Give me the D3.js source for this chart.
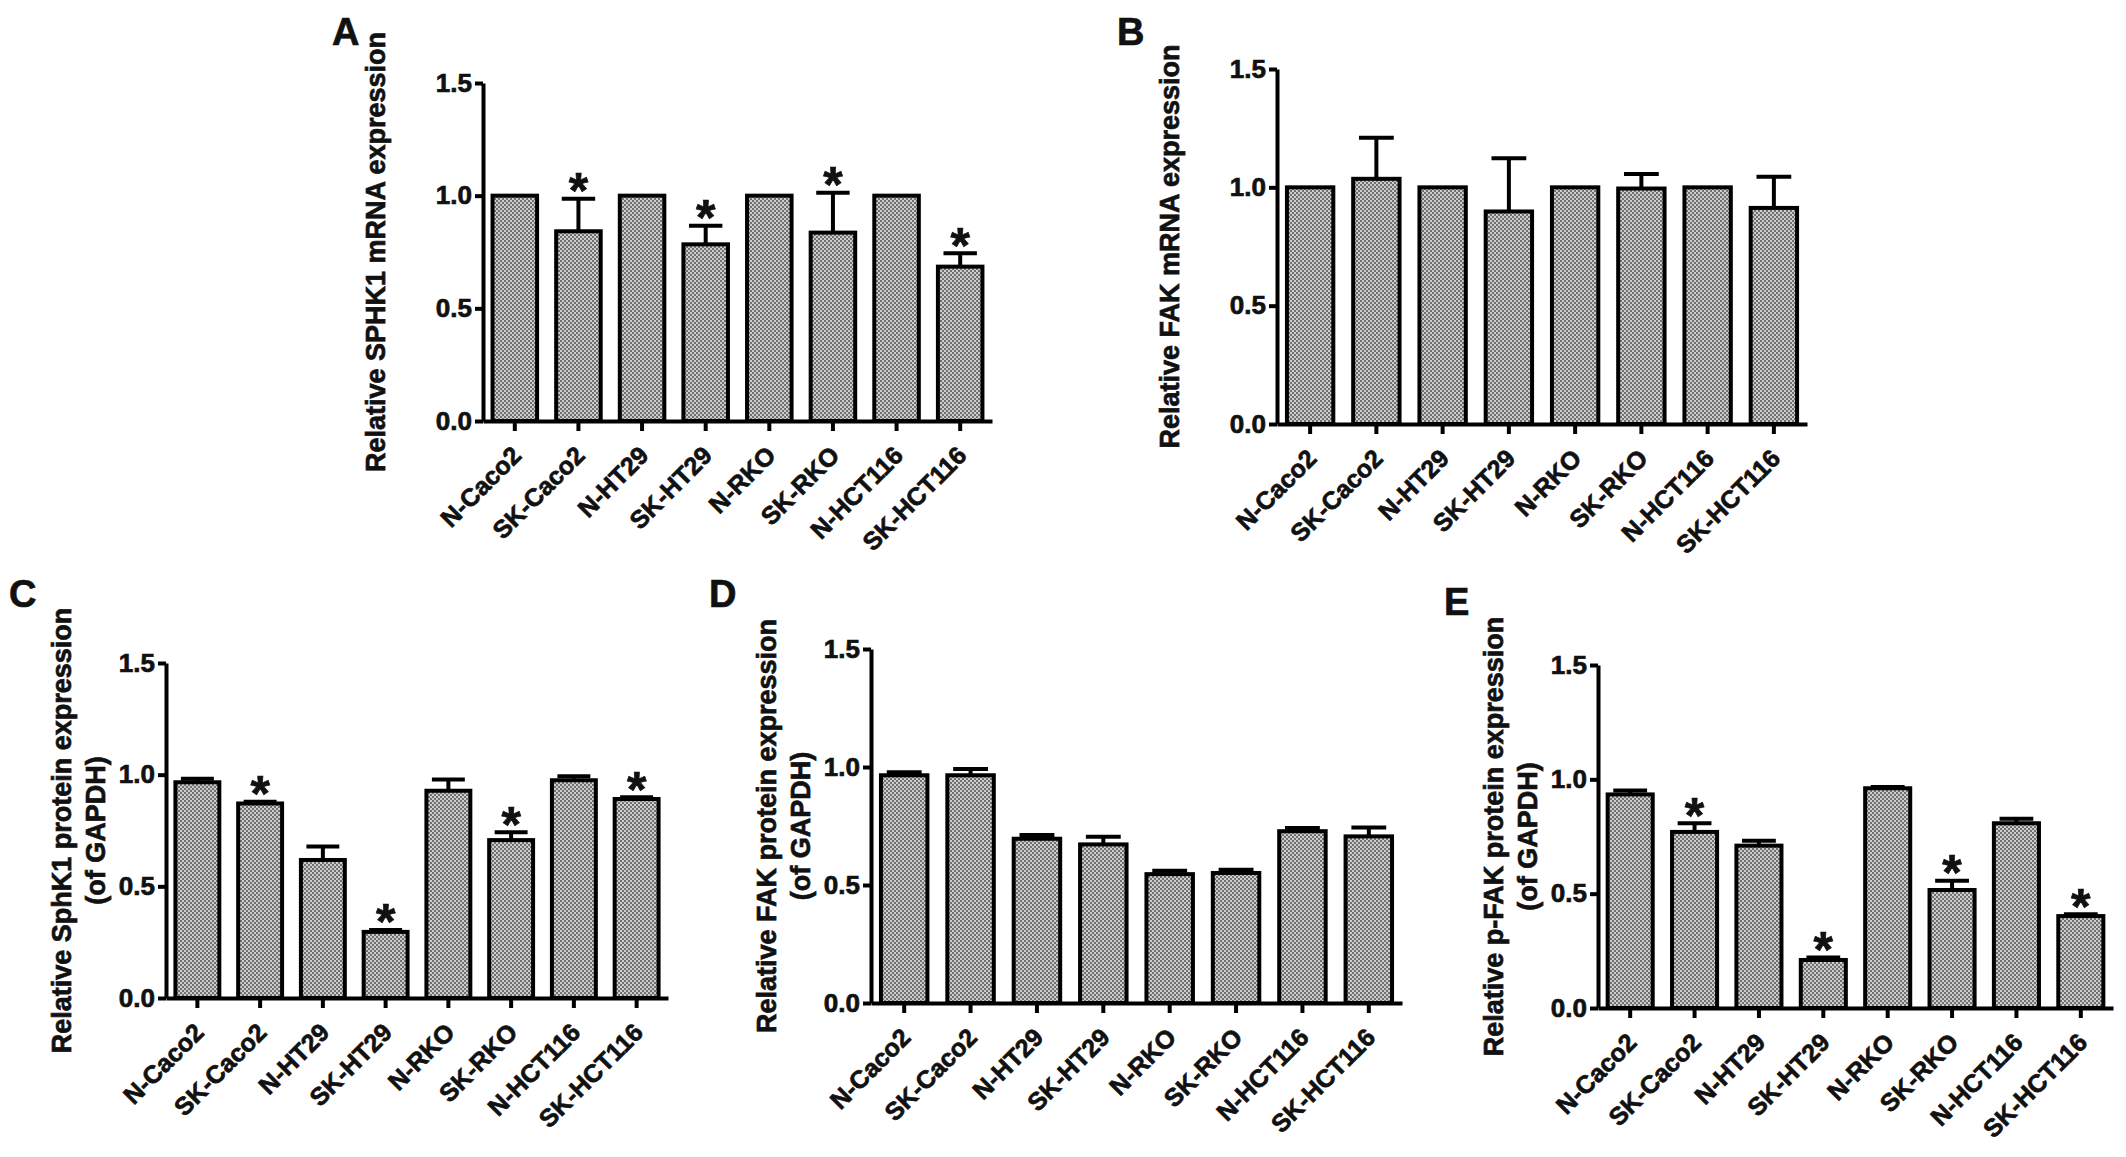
<!DOCTYPE html>
<html lang="en">

<head>
    <meta charset="UTF-8">
    <title>SPHK1 and FAK expression</title>
    <script src="https://d3js.org/d3.v7.min.js"></script>
    <style>
        body { margin: 0; background: #fff; }
        svg text { font-family: "Liberation Sans", Arial, sans-serif; font-weight: bold; fill: #111; stroke: #111; stroke-width: 0.7px; }
    </style>
</head>

<body>
    <svg id="fig" width="2126" height="1157"></svg>

<script>
    // Data
    var cellLines = ["N-Caco2", "SK-Caco2", "N-HT29", "SK-HT29", "N-RKO", "SK-RKO", "N-HCT116", "SK-HCT116"];
    var yTicks = [0, 0.5, 1.0, 1.5];

    // A - SPHK1 mRNA
    var sphk1Mrna = [1.0, 0.842, 1.0, 0.784, 1.0, 0.836, 1.0, 0.685];
    var sphk1MrnaSem = [0, 0.144, 0, 0.082, 0, 0.177, 0, 0.059];
    var sphk1MrnaStars = [0, 1, 0, 1, 0, 1, 0, 1];

    // B - FAK mRNA
    var fakMrna = [1.0, 1.036, 1.0, 0.898, 1.0, 0.995, 1.0, 0.913];
    var fakMrnaSem = [0, 0.173, 0, 0.225, 0, 0.061, 0, 0.132];
    var fakMrnaStars = [0, 0, 0, 0, 0, 0, 0, 0];

    // C - SphK1 protein
    var sphk1Protein = [0.966, 0.871, 0.618, 0.296, 0.928, 0.707, 0.975, 0.891];
    var sphk1ProteinSem = [0.016, 0.008, 0.060, 0.009, 0.050, 0.035, 0.018, 0.008];
    var sphk1ProteinStars = [0, 1, 0, 1, 0, 1, 0, 1];

    // D - FAK protein
    var fakProtein = [0.965, 0.965, 0.696, 0.672, 0.546, 0.551, 0.728, 0.706];
    var fakProteinSem = [0.013, 0.027, 0.016, 0.032, 0.014, 0.014, 0.013, 0.038];
    var fakProteinStars = [0, 0, 0, 0, 0, 0, 0, 0];

    // E - p-FAK protein
    var pfakProtein = [0.934, 0.770, 0.710, 0.210, 0.961, 0.516, 0.808, 0.402];
    var pfakProteinSem = [0.017, 0.038, 0.021, 0.011, 0.006, 0.041, 0.020, 0.008];
    var pfakProteinStars = [0, 1, 0, 1, 0, 1, 0, 1];

    // Panel layout (pixel frame of each plot)
    var panels = [
        { letter: "A", title: ["Relative SPHK1 mRNA expression"], values: sphk1Mrna, sem: sphk1MrnaSem, stars: sphk1MrnaStars,
          x0: 483, x1: 992, yTop: 83, yBot: 421, lx: 332, ly: 45 },
        { letter: "B", title: ["Relative FAK mRNA expression"], values: fakMrna, sem: fakMrnaSem, stars: fakMrnaStars,
          x0: 1277, x1: 1807, yTop: 69, yBot: 424, lx: 1117, ly: 45 },
        { letter: "C", title: ["Relative SphK1 protein expression", "(of GAPDH)"], values: sphk1Protein, sem: sphk1ProteinSem, stars: sphk1ProteinStars,
          x0: 166, x1: 668, yTop: 663, yBot: 998, lx: 9, ly: 607 },
        { letter: "D", title: ["Relative FAK protein expression", "(of GAPDH)"], values: fakProtein, sem: fakProteinSem, stars: fakProteinStars,
          x0: 871, x1: 1402, yTop: 649, yBot: 1003, lx: 709, ly: 607 },
        { letter: "E", title: ["Relative p-FAK protein expression", "(of GAPDH)"], values: pfakProtein, sem: pfakProteinSem, stars: pfakProteinStars,
          x0: 1598, x1: 2113, yTop: 665, yBot: 1008, lx: 1444, ly: 615 }
    ];

    var svg = d3.select("#fig");

    // dotted grey fill used by the bars
    var pat = svg.append("defs").append("pattern")
        .attr("id", "dots")
        .attr("patternUnits", "userSpaceOnUse")
        .attr("width", 4).attr("height", 4);
    pat.append("rect").attr("width", 4).attr("height", 4).attr("fill", "#cdcdcd");
    pat.append("rect").attr("width", 2).attr("height", 2).attr("fill", "#707070");
    pat.append("rect").attr("x", 2).attr("y", 2).attr("width", 2).attr("height", 2).attr("fill", "#707070");

    const draw = (p) => {
        const g = svg.append("g");
        const rows = cellLines.map((c, i) => ({ name: c, v: p.values[i], e: p.sem[i], star: p.stars[i] }));

        const x = d3.scaleBand()
            .domain(cellLines)
            .range([p.x0, p.x1])
            .paddingInner(0.3)
            .paddingOuter(0.15);

        const y = d3.scaleLinear()
            .domain([0, 1.5])
            .range([p.yBot, p.yTop]);

        const bw = x.bandwidth();

        // bars
        g.selectAll("rect.bar")
            .data(rows)
            .join("rect")
            .attr("class", "bar")
            .attr("x", d => x(d.name))
            .attr("y", d => y(d.v))
            .attr("width", bw)
            .attr("height", d => y(0) - y(d.v))
            .attr("fill", "url(#dots)")
            .attr("stroke", "#000")
            .attr("stroke-width", 4);

        // error bars (upper only)
        const err = rows.filter(d => d.e > 0);
        g.selectAll("line.stem")
            .data(err)
            .join("line")
            .attr("x1", d => x(d.name) + bw / 2)
            .attr("x2", d => x(d.name) + bw / 2)
            .attr("y1", d => y(d.v))
            .attr("y2", d => y(d.v + d.e))
            .attr("stroke", "#000")
            .attr("stroke-width", 4);
        g.selectAll("line.cap")
            .data(err)
            .join("line")
            .attr("x1", d => x(d.name) + bw * 0.125)
            .attr("x2", d => x(d.name) + bw * 0.875)
            .attr("y1", d => y(d.v + d.e))
            .attr("y2", d => y(d.v + d.e))
            .attr("stroke", "#000")
            .attr("stroke-width", 4);

        // significance stars
        const starSize = 50;
        g.selectAll("text.star")
            .data(rows.filter(d => d.star))
            .join("text")
            .attr("class", "star")
            .attr("x", d => x(d.name) + bw / 2)
            .attr("y", d => y(d.v + d.e) - 19 + 0.57 * starSize)
            .attr("text-anchor", "middle")
            .style("font-size", starSize + "px")
            .text("*");

        // axes
        const yAxis = g.append("g")
            .attr("transform", "translate(" + p.x0 + ",0)")
            .call(d3.axisLeft(y).tickValues(yTicks).tickFormat(d3.format(".1f"))
                .tickSize(8).tickSizeOuter(0).tickPadding(3));
        yAxis.selectAll("text").style("font-size", "26px");

        const xAxis = g.append("g")
            .attr("transform", "translate(0," + p.yBot + ")")
            .call(d3.axisBottom(x).tickSize(10).tickSizeOuter(0));
        xAxis.selectAll("text")
            .style("font-size", "25px")
            .attr("text-anchor", "end")
            .attr("y", 0)
            .attr("dy", 0)
            .attr("transform", "translate(8,36) rotate(-45)");

        g.selectAll(".domain, .tick line")
            .attr("stroke", "#000")
            .attr("stroke-width", 4);

        // y axis title (one or two lines)
        const cy = (p.yTop + p.yBot) / 2;
        const offs = p.title.length === 1 ? [107] : [104, 70];
        p.title.forEach((t, i) => {
            g.append("text")
                .attr("transform", "translate(" + (p.x0 - offs[i]) + "," + cy + ") rotate(-90)")
                .attr("text-anchor", "middle")
                .attr("dy", "0.35em")
                .style("font-size", "27px")
                .text(t);
        });

        // panel letter
        g.append("text")
            .attr("x", p.lx)
            .attr("y", p.ly)
            .style("font-size", "38px")
            .text(p.letter);
    };

    panels.forEach(draw);
</script>
</body>

</html>
